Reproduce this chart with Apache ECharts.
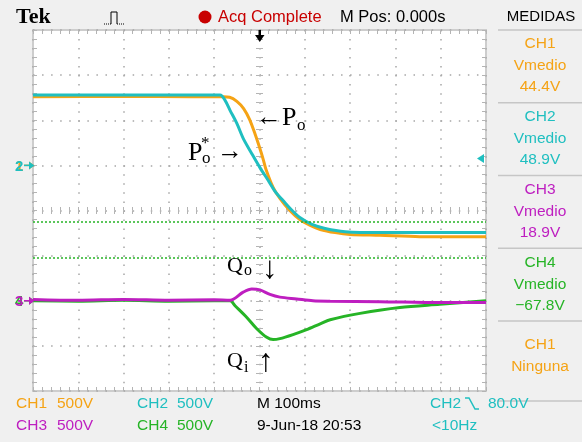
<!DOCTYPE html>
<html>
<head>
<meta charset="utf-8">
<script src="https://cdn.jsdelivr.net/npm/echarts@6/dist/echarts.min.js"></script>
<style>
  html, body { margin: 0; padding: 0; background: #f0f0f0; }
  #scope { width: 582px; height: 442px; }
</style>
</head>
<body>
<div id="scope"></div>
<script>
// Traces: time in ms (100 ms/div, trigger at 0), level in screen divisions
const ch1Time  = [-500, -300, -150, -80, -66, -50, -35, -22, -10, 0, 8, 14, 30, 45, 67, 89, 112, 134, 167, 200, 266, 354, 500];
const ch1Level = [2.52, 2.53, 2.52, 2.52, 2.51, 2.42, 2.26, 2.02, 1.70, 1.40, 1.14, 0.92, 0.51, 0.27, 0.0, -0.20, -0.33, -0.42, -0.49, -0.53, -0.55, -0.58, -0.58];

const ch2Time  = [-500, -300, -150, -87, -76, -65, -50, -36, -17, 1, 19, 36, 52, 72, 89, 116, 145, 189, 266, 354, 500];
const ch2Level = [2.56, 2.56, 2.56, 2.56, 2.44, 2.22, 1.93, 1.60, 1.26, 0.95, 0.67, 0.40, 0.22, 0.0, -0.155, -0.31, -0.40, -0.47, -0.49, -0.49, -0.49];

const ch3Time  = [-500, -400, -300, -200, -100, -65, -36, -17, 1, 23, 45, 82, 118, 156, 266, 398, 500];
const ch3Level = [-1.97, -1.99, -1.97, -1.99, -1.98, -1.99, -1.81, -1.74, -1.76, -1.86, -1.92, -1.96, -2.00, -2.01, -2.02, -2.04, -2.04];

const ch4Time  = [-500, -400, -300, -200, -100, -65, -54, -28, -6, 16, 30, 45, 74, 104, 134, 156, 222, 310, 398, 500];
const ch4Level = [-2.00, -2.01, -1.99, -2.01, -2.00, -2.00, -2.11, -2.37, -2.62, -2.81, -2.86, -2.84, -2.75, -2.64, -2.51, -2.42, -2.28, -2.15, -2.08, -2.00];

// Horizontal cursors (divisions)
const cursorLevels = [-0.244, -1.042];

// Reference markers (divisions)
const groundLevel12 = 1.0;
const groundLevel34 = -2.0;
const triggerLevel = 1.15;

// Measurement panel
const measChannels = ['CH1', 'CH2', 'CH3', 'CH4'];
const measNames    = ['Vmedio', 'Vmedio', 'Vmedio', 'Vmedio'];
const measValues   = ['44.4V', '48.9V', '18.9V', '\u221267.8V'];
const lastChannel  = 'CH1';
const lastName     = 'Ninguna';

// Channel settings shown along the bottom
const scaleLabels  = ['500V', '500V', '500V', '500V'];
const timeBase     = 'M 100ms';
const dateStamp    = '9-Jun-18 20:53';
const triggerInfo  = '80.0V';
const freqInfo     = '<10Hz';

const C1 = '#F5A315', C2 = '#1FBFC0', C3 = '#BE1EC0', C4 = '#26B426', RED = '#C80000';
const DOT = '#a6a6a6', TICK = '#b4b4b4';
const FONT = '"Liberation Sans", "DejaVu Sans", Arial, sans-serif';
const SERIF = '"Liberation Serif", "DejaVu Serif", serif';

function xAx(position, extra) {
  return Object.assign({
    type: 'value', min: -500, max: 500, interval: 100, position,
    axisLabel: { show: false },
    axisLine: { show: false, onZero: false },
    axisTick: { show: true, inside: true, length: 4, lineStyle: { color: TICK } },
    minorTick: { show: true, splitNumber: 5, length: 4, lineStyle: { color: TICK } },
    splitLine: { show: false }
  }, extra || {});
}
function yAx(position, extra) {
  return Object.assign({
    type: 'value', min: -4, max: 4, interval: 1, position,
    axisLabel: { show: false },
    axisLine: { show: false, onZero: false },
    axisTick: { show: true, inside: true, length: 4, lineStyle: { color: TICK } },
    minorTick: { show: true, splitNumber: 5, length: 4, lineStyle: { color: TICK } },
    splitLine: { show: false }
  }, extra || {});
}
const clearLine = { show: true, onZero: true, onZeroAxisIndex: 0, lineStyle: { color: 'rgba(0,0,0,0)' } };
const centerTicks = inside => ({
  axisLine: clearLine,
  axisTick: { show: true, inside, length: 3.5, lineStyle: { color: TICK } },
  minorTick: { show: true, splitNumber: 5, length: 3.5, lineStyle: { color: TICK } }
});

function trace(name, t, v, color, z, extra) {
  return Object.assign({
    type: 'line', name, z,
    data: t.map((x, i) => [x, v[i]]),
    showSymbol: false, symbol: 'none', smooth: 0.3,
    lineStyle: { color, width: 3 }, itemStyle: { color },
    animation: false, silent: true
  }, extra || {});
}

const chart = echarts.init(document.getElementById('scope'), null, { renderer: 'canvas' });

chart.setOption({
  animation: false,
  backgroundColor: '#f0f0f0',
  grid: { left: 33, top: 30, width: 453, height: 361, show: true, backgroundColor: '#ffffff', borderColor: '#cdcdcd', borderWidth: 2 },
  xAxis: [
    xAx('bottom', { splitLine: { show: true, lineStyle: { color: DOT, type: [1.5, 7.52], width: 1.5 } } }),
    xAx('top'),
    xAx('bottom', centerTicks(true)),
    xAx('bottom', centerTicks(false))
  ],
  yAxis: [
    yAx('left', { splitLine: { show: true, lineStyle: { color: DOT, type: [1.5, 7.56], width: 1.5 } } }),
    yAx('right'),
    yAx('left', centerTicks(true)),
    yAx('left', centerTicks(false))
  ],
  series: [
    trace('CH1', ch1Time, ch1Level, C1, 2),
    trace('CH2', ch2Time, ch2Level, C2, 3),
    trace('CH4', ch4Time, ch4Level, C4, 4, {
      markLine: {
        silent: true, symbol: 'none', animation: false,
        label: { show: false },
        lineStyle: { color: C4, type: [2, 2], width: 1.5 },
        data: cursorLevels.map(v => ({ yAxis: v }))
      }
    }),
    trace('CH3', ch3Time, ch3Level, C3, 5)
  ]
});

const px = (t, v) => chart.convertToPixel({ gridIndex: 0 }, [t, v]);

function txt(text, x, y, color, size, align, family, weight) {
  return {
    type: 'text', x, y, z: 100, silent: true,
    style: {
      text, fill: color,
      font: (weight || 'normal') + ' ' + size + 'px ' + (family || FONT),
      align: align || 'left', verticalAlign: 'middle',
      textAlign: align || 'left', textVerticalAlign: 'middle'
    }
  };
}
function poly(points, color) {
  return { type: 'polygon', z: 100, silent: true, shape: { points }, style: { fill: color } };
}
function pline(points, color, width, dash) {
  return { type: 'polyline', z: 100, silent: true, shape: { points }, style: { stroke: color, lineWidth: width || 1, lineDash: dash || null, fill: null } };
}

const g = [];

// Header bar
g.push(txt('Tek', 16, 17, '#000', 22, 'left', SERIF, 'bold'));
g.push(pline([[104, 24], [111, 24]], '#000', 1, [1, 1]));
g.push(pline([[111, 24], [111, 12], [117, 12], [117, 24]], '#000', 1));
g.push(pline([[117, 24], [125, 24]], '#000', 1, [1, 1]));
g.push({ type: 'circle', z: 100, silent: true, shape: { cx: 205, cy: 17, r: 6.5 }, style: { fill: RED } });
g.push(txt('Acq Complete', 218, 17, RED, 16.5));
g.push(txt('M Pos: 0.000s', 340, 17, '#000', 16.5));
g.push(txt('MEDIDAS', 541, 17, '#000', 15, 'center'));

// Measurement panel
[30, 102.75, 175.5, 248.25, 321, 401].forEach(y => {
  g.push({ type: 'line', z: 100, silent: true, shape: { x1: 498, y1: y, x2: 582, y2: y }, style: { stroke: '#c6c6c6', lineWidth: 1.5 } });
});
const measColors = [C1, C2, C3, C4];
measChannels.forEach((ch, i) => {
  const top = 30 + 72.75 * i;
  g.push(txt(ch, 540, top + 14, measColors[i], 15.5, 'center'));
  g.push(txt(measNames[i], 540, top + 36, measColors[i], 15.5, 'center'));
  g.push(txt(measValues[i], 540, top + 57, measColors[i], 15.5, 'center'));
});
g.push(txt(lastChannel, 540, 345, C1, 15.5, 'center'));
g.push(txt(lastName, 540, 367, C1, 15.5, 'center'));

// Channel scale row
const rowY = [404, 426];
g.push(txt('CH1', 16, rowY[0], C1, 15.5));
g.push(txt(scaleLabels[0], 57, rowY[0], C1, 15.5));
g.push(txt('CH2', 137, rowY[0], C2, 15.5));
g.push(txt(scaleLabels[1], 177, rowY[0], C2, 15.5));
g.push(txt(timeBase, 257, rowY[0], '#000', 15.5));
g.push(txt('CH2', 430, rowY[0], C2, 15.5));
g.push(pline([[465, 398], [469, 398], [475, 409], [479, 409]], C2, 1.5));
g.push(txt(triggerInfo, 488, rowY[0], C2, 15.5));
g.push(txt('CH3', 16, rowY[1], C3, 15.5));
g.push(txt(scaleLabels[2], 57, rowY[1], C3, 15.5));
g.push(txt('CH4', 137, rowY[1], C4, 15.5));
g.push(txt(scaleLabels[3], 177, rowY[1], C4, 15.5));
g.push(txt(dateStamp, 257, rowY[1], '#000', 15.5));
g.push(txt(freqInfo, 432, rowY[1], C2, 15.5));

// Ground reference markers on the left edge
function groundMarker(label, level, color) {
  const p = px(-500, level);
  g.push(txt(label, p[0] - 18, p[1] + 1, color, 15, 'left', FONT, 'bold'));
  g.push(pline([[p[0] - 9, p[1]], [p[0] - 3, p[1]]], color, 1.5));
  g.push(poly([[p[0] - 4, p[1] - 4], [p[0] - 4, p[1] + 4], [p[0] + 1.5, p[1]]], color));
}
groundMarker('1', groundLevel12, C1);
groundMarker('2', groundLevel12, C2);
groundMarker('4', groundLevel34, C4);
groundMarker('3', groundLevel34, C3);

// Trigger level marker on the right edge
const tl = px(500, triggerLevel);
g.push(poly([[tl[0] - 9, tl[1]], [tl[0] - 2, tl[1] - 4.5], [tl[0] - 2, tl[1] + 4.5]], C2));

// Trigger position marker on the top edge
const tp = px(0, 4);
g.push({ type: 'rect', z: 100, silent: true, shape: { x: tp[0] - 1, y: tp[1], width: 2.5, height: 6 }, style: { fill: '#000' } });
g.push(poly([[tp[0] - 4.5, tp[1] + 5], [tp[0] + 5, tp[1] + 5], [tp[0] + 0.25, tp[1] + 12]], '#000'));

// Trace annotations
g.push(txt('\u2190P', 256, 118, '#000', 26, 'left', SERIF));
g.push(txt('o', 297, 126, '#000', 17, 'left', SERIF));
g.push(txt('P', 188, 153, '#000', 26, 'left', SERIF));
g.push(txt('*', 201, 144, '#000', 17, 'left', SERIF));
g.push(txt('o', 202, 159, '#000', 17, 'left', SERIF));
g.push(txt('\u2192', 217, 152.5, '#000', 26, 'left', SERIF));
g.push(txt('Q', 227, 266, '#000', 22, 'left', SERIF));
g.push(txt('o', 244, 270.5, '#000', 16, 'left', SERIF));
g.push(txt('\u2193', 262, 269.5, '#000', 31, 'left', SERIF));
g.push(txt('Q', 227, 361, '#000', 22, 'left', SERIF));
g.push(txt('i', 244, 367.5, '#000', 16, 'left', SERIF));
g.push(txt('\u2191', 258, 363, '#000', 32, 'left', SERIF));
</script>
<script>
chart.setOption({ graphic: { elements: g } });
</script>
</body>
</html>
